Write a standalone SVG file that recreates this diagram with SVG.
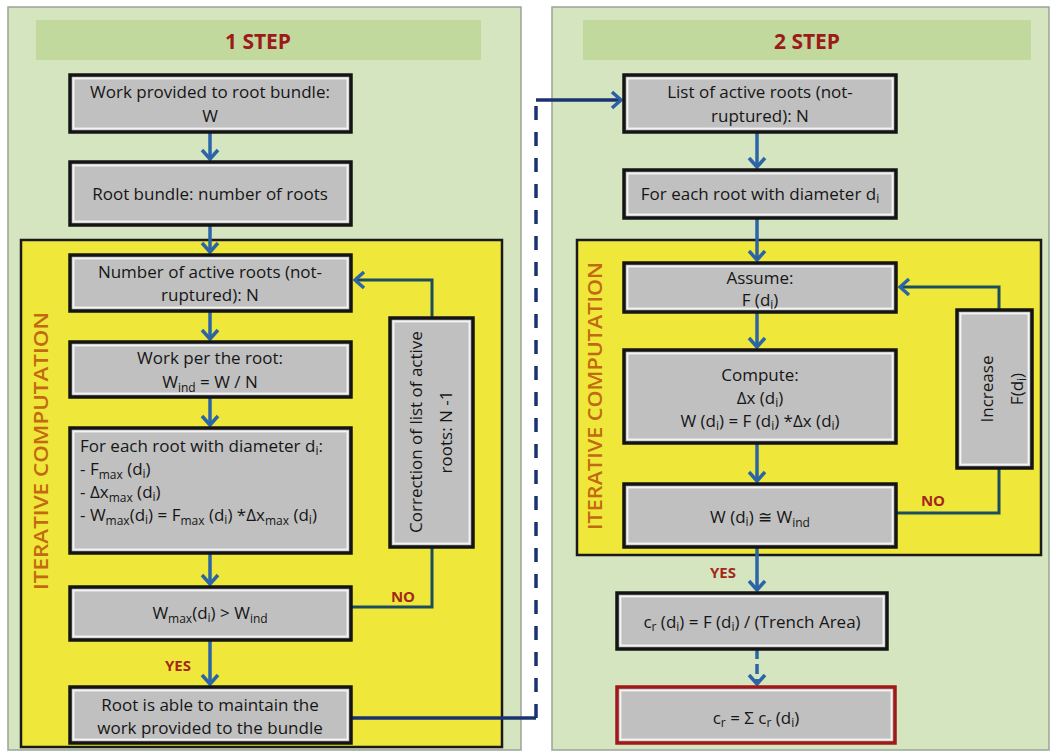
<svg xmlns="http://www.w3.org/2000/svg" width="1056" height="753" viewBox="0 0 1056 753">
<style>
.panel{fill:#d5e5bf;stroke:#9aa39a;stroke-width:1.5}
.hdr{fill:#c2d99e}
.hdrt{font-family:"Open Sans","Liberation Sans",sans-serif;font-weight:bold;font-size:21px;fill:#9c1a1a;text-anchor:middle}
.yel{fill:#efe83a;stroke:#1a1a1a;stroke-width:2.5}
.bx{fill:#c0c0c0;stroke:#141414;stroke-width:3.5}
.bxr{fill:#c0c0c0;stroke:#a01818;stroke-width:3.5}
.in{fill:none;stroke:#f4f4f4;stroke-width:1.8}
.t{font-family:"Open Sans","Liberation Sans",sans-serif;font-size:17px;fill:#161616;text-anchor:middle}
.tl{font-family:"Open Sans","Liberation Sans",sans-serif;font-size:17px;fill:#161616}
.s{font-size:12px}
.it{font-family:"Open Sans","Liberation Sans",sans-serif;font-weight:600;font-size:20px;fill:#c26a12;text-anchor:middle}
.lab{font-family:"Open Sans","Liberation Sans",sans-serif;font-weight:bold;font-size:15px;fill:#a3281a;text-anchor:middle}
.ab{fill:none;stroke:#2b65a8;stroke-width:3.5}
.fb{fill:none;stroke:#1d4d5c;stroke-width:3}
.dn{fill:none;stroke:#1a3370;stroke-width:3.5}
</style>
<defs>
<marker id="mB" viewBox="-12 -11 14 22" refX="0" refY="0" markerWidth="14" markerHeight="22" markerUnits="userSpaceOnUse" orient="auto">
<path d="M-9,-8 L0,0 L-9,8" fill="none" stroke="#2b65a8" stroke-width="3.5"/>
</marker>
<marker id="mT" viewBox="-12 -11 14 22" refX="0" refY="0" markerWidth="14" markerHeight="22" markerUnits="userSpaceOnUse" orient="auto">
<path d="M-9,-8 L0,0 L-9,8" fill="none" stroke="#2b65a8" stroke-width="3.5"/>
</marker>
<marker id="mN" viewBox="-12 -11 14 22" refX="0" refY="0" markerWidth="14" markerHeight="22" markerUnits="userSpaceOnUse" orient="auto">
<path d="M-9,-8 L0,0 L-9,8" fill="none" stroke="#2b5fa8" stroke-width="3.5"/>
</marker>
</defs>
<rect width="1056" height="753" fill="#ffffff"/>

<g id="panel1">
<rect class="panel" x="8" y="7" width="513" height="743"/>
<rect class="hdr" x="36" y="20" width="445" height="40"/>
<text class="hdrt" x="258" y="49">1  STEP</text>
<rect class="yel" x="21" y="240" width="481" height="507"/>
<text class="it" transform="translate(48,451) rotate(-90)" textLength="278" lengthAdjust="spacingAndGlyphs">ITERATIVE  COMPUTATION</text>
</g>

<g id="panel2">
<rect class="panel" x="552" y="7" width="497" height="743"/>
<rect class="hdr" x="583" y="20" width="448" height="40"/>
<text class="hdrt" x="807" y="49">2  STEP</text>
<rect class="yel" x="577" y="240" width="464" height="315"/>
<text class="it" transform="translate(602,396) rotate(-90)" textLength="268" lengthAdjust="spacingAndGlyphs">ITERATIVE  COMPUTATION</text>
</g>

<g id="connectors">
<path class="ab" d="M210,132 V159" marker-end="url(#mB)"/>
<path class="ab" d="M210,225 V252" marker-end="url(#mB)"/>
<path class="ab" d="M210,311 V339" marker-end="url(#mB)"/>
<path class="ab" d="M210,397 V425" marker-end="url(#mB)"/>
<path class="ab" d="M210,553 V584" marker-end="url(#mB)"/>
<path class="ab" d="M210,640 V684" marker-end="url(#mB)"/>
<path class="fb" d="M432,318 V280 H355" marker-end="url(#mT)"/>
<path class="fb" d="M432,547 V607 H351"/>
<path class="dn" d="M351,718 H536"/>
<path class="dn" d="M536,718 V100" stroke-dasharray="14 12"/>
<path class="dn" d="M536,100 H621" marker-end="url(#mN)"/>
<path class="ab" d="M757,132 V167" marker-end="url(#mB)"/>
<path class="ab" d="M757,218 V260" marker-end="url(#mB)"/>
<path class="ab" d="M757,312 V347" marker-end="url(#mB)"/>
<path class="ab" d="M757,443 V481" marker-end="url(#mB)"/>
<path class="ab" d="M757,547 V590" marker-end="url(#mB)"/>
<path class="ab" d="M757,649 V684" stroke-dasharray="10 5" marker-end="url(#mB)"/>
<path class="fb" d="M999,310 V287 H900" marker-end="url(#mT)"/>
<path class="fb" d="M999,468 V513 H896"/>
<text class="lab" x="403" y="602">NO</text>
<text class="lab" x="178" y="671">YES</text>
<text class="lab" x="933" y="506">NO</text>
<text class="lab" x="723" y="578">YES</text>
</g>

<g id="n1">
<rect class="bx" x="70" y="75" width="281" height="57"/><rect class="in" x="73.5" y="78.5" width="274" height="50"/>
<text class="t" x="210" y="98">Work provided to root bundle:</text>
<text class="t" x="210" y="122">W</text>
</g>
<g id="n2">
<rect class="bx" x="70" y="162" width="281" height="63"/><rect class="in" x="73.5" y="165.5" width="274" height="56"/>
<text class="t" x="210" y="200">Root bundle: number of roots</text>
</g>
<g id="n3">
<rect class="bx" x="70" y="255" width="281" height="56"/><rect class="in" x="73.5" y="258.5" width="274" height="49"/>
<text class="t" x="210" y="278">Number of active roots  (not-</text>
<text class="t" x="210" y="301">ruptured): N</text>
</g>
<g id="n4">
<rect class="bx" x="70" y="342" width="281" height="55"/><rect class="in" x="73.5" y="345.5" width="274" height="48"/>
<text class="t" x="210" y="364">Work per the root:</text>
<text class="t" x="210" y="388">W<tspan class="s" dy="4">ind</tspan><tspan dy="-4"> = W / N</tspan></text>
</g>
<g id="n5">
<rect class="bx" x="70" y="428" width="281" height="125"/><rect class="in" x="73.5" y="431.5" width="274" height="118"/>
<text class="tl" x="80" y="452">For each root with diameter d<tspan class="s" dy="3">i</tspan><tspan dy="-3">:</tspan></text>
<text class="tl" x="80" y="475">- F<tspan class="s" dy="4">max</tspan><tspan dy="-4"> (d</tspan><tspan class="s" dy="3">i</tspan><tspan dy="-3">)</tspan></text>
<text class="tl" x="80" y="498">- Δx<tspan class="s" dy="4">max</tspan><tspan dy="-4"> (d</tspan><tspan class="s" dy="3">i</tspan><tspan dy="-3">)</tspan></text>
<text class="tl" x="80" y="521">- W<tspan class="s" dy="4">max</tspan><tspan dy="-4">(d</tspan><tspan class="s" dy="3">i</tspan><tspan dy="-3">) = F</tspan><tspan class="s" dy="4">max</tspan><tspan dy="-4"> (d</tspan><tspan class="s" dy="3">i</tspan><tspan dy="-3">) *Δx</tspan><tspan class="s" dy="4">max</tspan><tspan dy="-4"> (d</tspan><tspan class="s" dy="3">i</tspan><tspan dy="-3">)</tspan></text>
</g>
<g id="n6">
<rect class="bx" x="70" y="587" width="281" height="53"/><rect class="in" x="73.5" y="590.5" width="274" height="46"/>
<text class="t" x="210" y="619">W<tspan class="s" dy="4">max</tspan><tspan dy="-4">(d</tspan><tspan class="s" dy="3">i</tspan><tspan dy="-3">)  &gt; W</tspan><tspan class="s" dy="4">ind</tspan></text>
</g>
<g id="n7">
<rect class="bx" x="70" y="687" width="281" height="56"/><rect class="in" x="73.5" y="690.5" width="274" height="49"/>
<text class="t" x="210" y="711">Root is able to maintain the</text>
<text class="t" x="210" y="734">work provided to the bundle</text>
</g>
<g id="n8">
<rect class="bx" x="390" y="318" width="83" height="229"/><rect class="in" x="393.5" y="321.5" width="76" height="222"/>
<text class="t" transform="translate(422,432) rotate(-90)">Correction of list of active</text>
<text class="t" transform="translate(452,432) rotate(-90)">roots:  N -1</text>
</g>

<g id="m1">
<rect class="bx" x="624" y="75" width="272" height="57"/><rect class="in" x="627.5" y="78.5" width="265" height="50"/>
<text class="t" x="760" y="98">List  of active roots  (not-</text>
<text class="t" x="760" y="122">ruptured): N</text>
</g>
<g id="m2">
<rect class="bx" x="624" y="170" width="272" height="48"/><rect class="in" x="627.5" y="173.5" width="265" height="41"/>
<text class="t" x="760" y="200">For each root with diameter d<tspan class="s" dy="3">i</tspan></text>
</g>
<g id="m3">
<rect class="bx" x="624" y="263" width="272" height="49"/><rect class="in" x="627.5" y="266.5" width="265" height="42"/>
<text class="t" x="760" y="284">Assume:</text>
<text class="t" x="760" y="306">F (d<tspan class="s" dy="3">i</tspan><tspan dy="-3">)</tspan></text>
</g>
<g id="m4">
<rect class="bx" x="624" y="350" width="272" height="93"/><rect class="in" x="627.5" y="353.5" width="265" height="86"/>
<text class="t" x="760" y="381">Compute:</text>
<text class="t" x="760" y="404">Δx (d<tspan class="s" dy="3">i</tspan><tspan dy="-3">)</tspan></text>
<text class="t" x="760" y="427">W (d<tspan class="s" dy="3">i</tspan><tspan dy="-3">) = F (d</tspan><tspan class="s" dy="3">i</tspan><tspan dy="-3">) *Δx (d</tspan><tspan class="s" dy="3">i</tspan><tspan dy="-3">)</tspan></text>
</g>
<g id="m5">
<rect class="bx" x="624" y="484" width="272" height="63"/><rect class="in" x="627.5" y="487.5" width="265" height="56"/>
<text class="t" x="760" y="523">W (d<tspan class="s" dy="3">i</tspan><tspan dy="-3">) ≅ W</tspan><tspan class="s" dy="4">ind</tspan></text>
</g>
<g id="m6">
<rect class="bx" x="957" y="310" width="75" height="158"/><rect class="in" x="960.5" y="313.5" width="68" height="151"/>
<text class="t" transform="translate(993,389) rotate(-90)">Increase</text>
<text class="t" transform="translate(1023,389) rotate(-90)">F(d<tspan class="s" dy="3">i</tspan><tspan dy="-3">)</tspan></text>
</g>
<g id="m7">
<rect class="bx" x="617" y="593" width="270" height="56"/><rect class="in" x="620.5" y="596.5" width="263" height="49"/>
<text class="t" x="752" y="628">c<tspan class="s" dy="3">r</tspan><tspan dy="-3"> (d</tspan><tspan class="s" dy="3">i</tspan><tspan dy="-3">)  = F (d</tspan><tspan class="s" dy="3">i</tspan><tspan dy="-3">) / (Trench Area)</tspan></text>
</g>
<g id="m8">
<rect class="bxr" x="617" y="687" width="278" height="56"/><rect class="in" x="620.5" y="690.5" width="271" height="49"/>
<text class="t" x="756" y="724">c<tspan class="s" dy="3">r</tspan><tspan dy="-3"> = Σ c</tspan><tspan class="s" dy="3">r</tspan><tspan dy="-3"> (d</tspan><tspan class="s" dy="3">i</tspan><tspan dy="-3">)</tspan></text>
</g>
</svg>
